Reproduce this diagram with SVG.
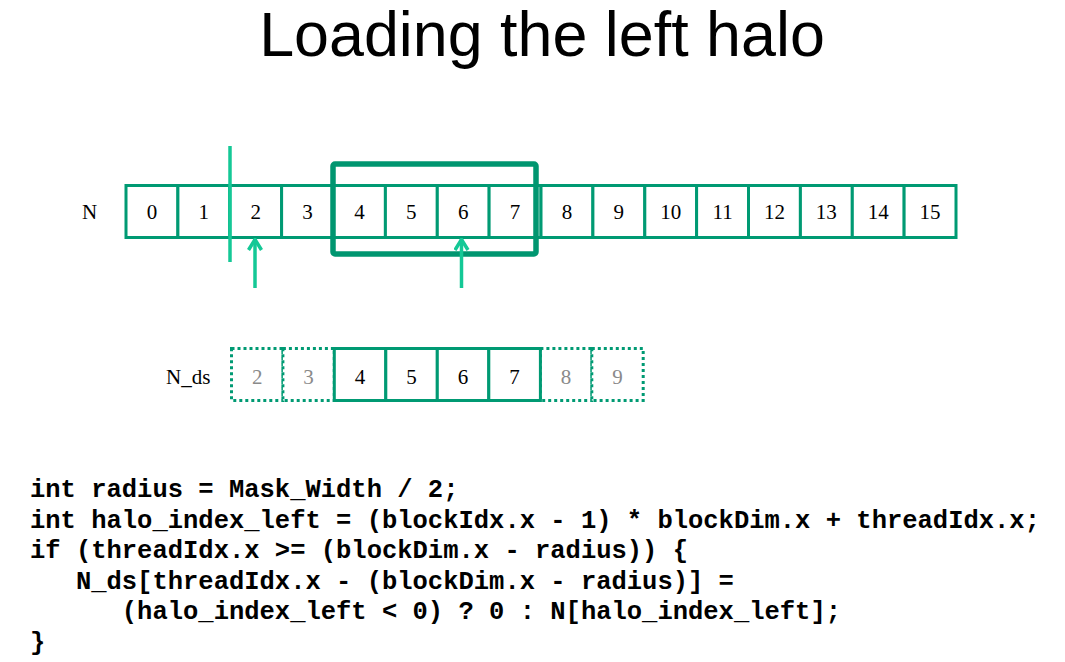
<svg xmlns="http://www.w3.org/2000/svg" width="1065" height="662" viewBox="0 0 1065 662">
  <defs>
    <style>
      .title { font-family: "Liberation Sans", Arial, sans-serif; font-size: 62.8px; fill: #000; }
      .lbl { font-family: "Liberation Serif", "Times New Roman", serif; font-size: 21px; fill: #000; }
      .num { font-family: "Liberation Serif", "Times New Roman", serif; font-size: 21px; fill: #000; text-anchor: middle; }
      .ghost { fill: #8a8a8a; }
      .cell { fill: #fff; stroke: #009a73; stroke-width: 3; }
      .dotted { fill: #fff; stroke: #009a73; stroke-width: 3; stroke-dasharray: 3 3; }
      .block { fill: none; stroke: #009670; stroke-width: 5.5; }
      .mark { stroke: #14c896; stroke-width: 3.5; fill: none; stroke-linecap: butt; }
      .code { font-family: "Liberation Mono", "Courier New", monospace; font-weight: bold; font-size: 25.5px; fill: #000; white-space: pre; }
    </style>
    <!-- open chevron head, drawn pointing along +x so orient="auto" follows the line -->
    <marker id="head" viewBox="0 0 14 16" refX="12.5" refY="8" markerWidth="14" markerHeight="16" markerUnits="userSpaceOnUse" orient="auto">
      <path d="M1.5 1.5 L12 8 L1.5 14.5" fill="none" stroke="#14c896" stroke-width="3.5"/>
    </marker>
  </defs>
  <rect width="1065" height="662" fill="#fff"/>

  <text class="title" x="542" y="56" text-anchor="middle">Loading the left halo</text>

  <!-- global input array N -->
  <g id="array-N">
    <text class="lbl" x="82" y="219">N</text>
    <g id="N-cells">
      <rect class="cell" x="126" y="185.5" width="51.9" height="52"/>
      <rect class="cell" x="177.9" y="185.5" width="51.9" height="52"/>
      <rect class="cell" x="229.8" y="185.5" width="51.9" height="52"/>
      <rect class="cell" x="281.6" y="185.5" width="51.9" height="52"/>
      <rect class="cell" x="333.5" y="185.5" width="51.9" height="52"/>
      <rect class="cell" x="385.4" y="185.5" width="51.9" height="52"/>
      <rect class="cell" x="437.3" y="185.5" width="51.9" height="52"/>
      <rect class="cell" x="489.1" y="185.5" width="51.9" height="52"/>
      <rect class="cell" x="541" y="185.5" width="51.9" height="52"/>
      <rect class="cell" x="592.9" y="185.5" width="51.9" height="52"/>
      <rect class="cell" x="644.8" y="185.5" width="51.9" height="52"/>
      <rect class="cell" x="696.6" y="185.5" width="51.9" height="52"/>
      <rect class="cell" x="748.5" y="185.5" width="51.9" height="52"/>
      <rect class="cell" x="800.4" y="185.5" width="51.9" height="52"/>
      <rect class="cell" x="852.3" y="185.5" width="51.9" height="52"/>
      <rect class="cell" x="904.1" y="185.5" width="51.9" height="52"/>
    </g>
    <g id="N-values">
      <text class="num" x="152" y="219">0</text>
      <text class="num" x="203.8" y="219">1</text>
      <text class="num" x="255.7" y="219">2</text>
      <text class="num" x="307.6" y="219">3</text>
      <text class="num" x="359.4" y="219">4</text>
      <text class="num" x="411.3" y="219">5</text>
      <text class="num" x="463.2" y="219">6</text>
      <text class="num" x="515.1" y="219">7</text>
      <text class="num" x="567" y="219">8</text>
      <text class="num" x="618.8" y="219">9</text>
      <text class="num" x="670.7" y="219">10</text>
      <text class="num" x="722.6" y="219">11</text>
      <text class="num" x="774.4" y="219">12</text>
      <text class="num" x="826.3" y="219">13</text>
      <text class="num" x="878.2" y="219">14</text>
      <text class="num" x="930" y="219">15</text>
    </g>
  </g>

  <!-- current output tile -->
  <g id="tile">
    <rect class="block" x="333" y="164" width="203" height="90" rx="2"/>
  </g>

  <!-- halo boundary and thread pointers -->
  <g id="connectors">
    <line class="mark" x1="230" y1="146" x2="230" y2="262"/>
    <line class="mark" x1="255" y1="288" x2="255" y2="239" marker-end="url(#head)"/>
    <line class="mark" x1="461.5" y1="288" x2="461.5" y2="239" marker-end="url(#head)"/>
  </g>

  <!-- shared memory tile N_ds -->
  <g id="array-Nds">
    <text class="lbl" x="166" y="384">N_ds</text>
    <g id="Nds-cells">
      <rect class="dotted" x="231.5" y="348.5" width="51.4" height="52"/>
      <rect class="dotted" x="282.9" y="348.5" width="51.4" height="52"/>
      <rect class="dotted" x="540.4" y="348.5" width="51.4" height="52"/>
      <rect class="dotted" x="591.8" y="348.5" width="51.4" height="52"/>
      <rect class="cell" x="334.3" y="348.5" width="51.5" height="52"/>
      <rect class="cell" x="385.8" y="348.5" width="51.5" height="52"/>
      <rect class="cell" x="437.3" y="348.5" width="51.5" height="52"/>
      <rect class="cell" x="488.8" y="348.5" width="51.6" height="52"/>
    </g>
    <g id="Nds-values">
      <text class="num ghost" x="257.2" y="384">2</text>
      <text class="num ghost" x="308.6" y="384">3</text>
      <text class="num" x="360" y="384">4</text>
      <text class="num" x="411.5" y="384">5</text>
      <text class="num" x="463" y="384">6</text>
      <text class="num" x="514.6" y="384">7</text>
      <text class="num ghost" x="566.1" y="384">8</text>
      <text class="num ghost" x="617.5" y="384">9</text>
    </g>
  </g>

  <!-- kernel excerpt -->
  <g id="code">
    <text class="code" x="30" y="497">int radius = Mask_Width / 2;</text>
    <text class="code" x="30" y="528">int halo_index_left = (blockIdx.x - 1) * blockDim.x + threadIdx.x;</text>
    <text class="code" x="30" y="558">if (threadIdx.x &gt;= (blockDim.x - radius)) {</text>
    <text class="code" x="30" y="589">   N_ds[threadIdx.x - (blockDim.x - radius)] =</text>
    <text class="code" x="30" y="619">      (halo_index_left &lt; 0) ? 0 : N[halo_index_left];</text>
    <text class="code" x="30" y="650">}</text>
  </g>
</svg>
